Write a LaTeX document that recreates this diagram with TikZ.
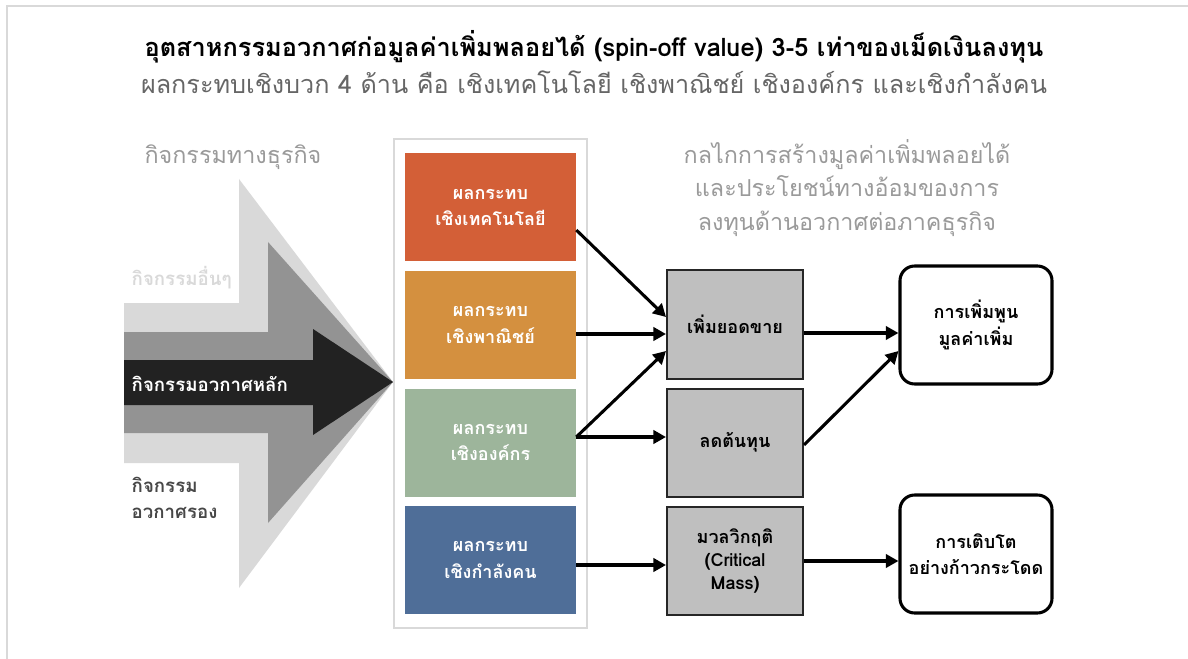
\documentclass[tikz,border=0pt]{standalone}
\usepackage{fontspec}
\setmainfont[Script=Thai]{Loma}
\usetikzlibrary{arrows.meta}
\definecolor{frameg}{HTML}{D9D9D9}
\definecolor{lg}{HTML}{D9D9D9}
\definecolor{mg}{HTML}{939393}
\definecolor{dg}{HTML}{222222}
\definecolor{headg}{HTML}{9A9A9A}
\definecolor{c1}{HTML}{D35F37}
\definecolor{c2}{HTML}{D4903F}
\definecolor{c3}{HTML}{9DB59B}
\definecolor{c4}{HTML}{4F6E98}
\definecolor{boxg}{HTML}{BFBFBF}
\tikzset{
  impact/.style={minimum width=171*0.75pt, minimum height=108*0.75pt, inner sep=0pt, text=white, font=\bfseries\fontsize{13.5}{20}\selectfont, align=center},
  mech/.style={draw=black!85, line width=1.5pt, fill=boxg, minimum width=136*0.75pt, minimum height=108*0.75pt, inner sep=0pt, font=\bfseries\fontsize{13.5}{17}\selectfont, align=center},
  result/.style={draw=black, line width=2.3pt, rounded corners=11pt, minimum width=152*0.75pt, minimum height=118*0.75pt, inner sep=0pt, font=\bfseries\fontsize{13.5}{20}\selectfont, align=center},
  conn/.style={line width=2.3pt, -{Triangle[length=9.5pt,width=10pt]}},
  heading/.style={text=headg, font=\fontsize{17.5}{25}\selectfont, align=center},
  sidelabel/.style={anchor=west, font=\bfseries\fontsize{14}{20}\selectfont, align=left},
}
\begin{document}
\begin{tikzpicture}[x=0.75pt,y=-0.75pt]
\useasboundingbox (0,0) rectangle (1188,659);
% frame
\draw[frameg, line width=1.6pt] (7,659) -- (7,6) -- (1188,6);
% title
\node[font=\bfseries\fontsize{19}{22}\selectfont] (t1) at (594,47) {อุตสาหกรรมอวกาศก่อมูลค่าเพิ่มพลอยได้ (spin-off value) 3-5 เท่าของเม็ดเงินลงทุน};
\node[text=black!60, font=\fontsize{18.9}{22}\selectfont] (t2) at (594,82) {ผลกระทบเชิงบวก 4 ด้าน คือ เชิงเทคโนโลยี เชิงพาณิชย์ เชิงองค์กร และเชิงกำลังคน};
% left arrows
\fill[lg] (124,303) -- (239,303) -- (239,179) -- (393,382) -- (239,588) -- (239,463) -- (124,463) -- cycle;
\fill[mg] (124,332) -- (268,332) -- (268,242) -- (393,382) -- (268,523) -- (268,433) -- (124,433) -- cycle;
\fill[dg] (124,360) -- (313,360) -- (313,329) -- (393,382) -- (313,435) -- (313,405) -- (124,405) -- cycle;
\node[heading] (bh) at (233,157) {กิจกรรมทางธุรกิจ};
\node[sidelabel, text=lg] (l1) at (127,278) {กิจกรรมอื่นๆ};
\node[sidelabel, text=white] (l2) at (127,384) {กิจกรรมอวกาศหลัก};
\node[sidelabel, text=black!72] (l3) at (127,498) {กิจกรรม\\อวกาศรอง};
% container
\draw[frameg, line width=0.9pt] (394,139) rectangle (587,628);
\node[impact, fill=c1] (i1) at (490.5,207.5) {ผลกระทบ\\เชิงเทคโนโลยี};
\node[impact, fill=c2] (i2) at (490.5,325) {ผลกระทบ\\เชิงพาณิชย์};
\node[impact, fill=c3] (i3) at (490.5,442.5) {ผลกระทบ\\เชิงองค์กร};
\node[impact, fill=c4] (i4) at (490.5,560) {ผลกระทบ\\เชิงกำลังคน};
% right heading
\node[heading] (rh) at (847,188) {กลไกการสร้างมูลค่าเพิ่มพลอยได้\\และประโยชน์ทางอ้อมของการ\\ลงทุนด้านอวกาศต่อภาคธุรกิจ};
% mechanism boxes
\node[mech] (m1) at (735,324.5) {เพิ่มยอดขาย};
\node[mech] (m2) at (735,442.5) {ลดต้นทุน};
\node[mech] (m3) at (735,561) {มวลวิกฤติ\\(Critical\\Mass)};
% results
\node[result] (r1) at (976,325) {การเพิ่มพูน\\มูลค่าเพิ่ม};
\node[result] (r2) at (976,554) {การเติบโต\\อย่างก้าวกระโดด};
% connectors
\draw[conn] (i1.east |- 0,230) -- (m1.west |- 0,317);
\draw[conn] (i2.east |- 0,334) -- (m1.west |- 0,334);
\draw[conn] (i3.east |- 0,437) -- (m1.west |- 0,351);
\draw[conn] (i3.east |- 0,437) -- (m2.west |- 0,437);
\draw[conn] (i4.east |- 0,565) -- (m3.west |- 0,565);
\draw[conn] (m1.east |- 0,333) -- (r1.west |- 0,333);
\draw[conn] (m2.east |- 0,445) -- (r1.west |- 0,351);
\draw[conn] (m3.east |- 0,561) -- (r2.west |- 0,561);
\end{tikzpicture}
\end{document}
